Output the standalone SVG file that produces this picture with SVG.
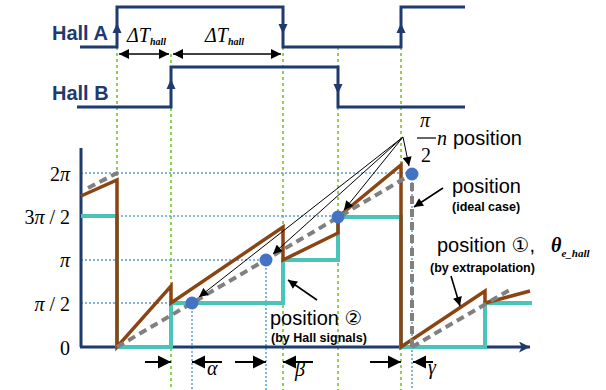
<svg xmlns="http://www.w3.org/2000/svg" width="606" height="390" viewBox="0 0 606 390">
<defs>
<style>
.hall{fill:none;stroke:#1F3A6E;stroke-width:3}
.hlab{font-family:"Liberation Sans",Arial,sans-serif;font-weight:bold;font-size:20px;fill:#1F3A6E}
.green{stroke:#92D050;stroke-width:2;stroke-dasharray:3,3;fill:none}
.bdot{stroke:#5B9BD5;stroke-width:1.5;stroke-dasharray:2,2;fill:none}
.teal{fill:none;stroke:#4BC4B8;stroke-width:4}
.brown{fill:none;stroke:#8B4513;stroke-width:3.5;stroke-linejoin:miter}
.gray{fill:none;stroke:#808080;stroke-width:4;stroke-dasharray:8,5}
.ser{font-family:"Liberation Serif","Times New Roman",serif;font-size:20px;fill:#000}
.it{font-style:italic}
.san{font-family:"Liberation Sans",Arial,"DejaVu Sans",sans-serif;font-size:20px;fill:#000}
.small{font-family:"Liberation Sans",Arial,sans-serif;font-weight:bold;font-size:12.5px;fill:#000}
.thin{stroke:#000;stroke-width:1;fill:none}
.arr{stroke:#000;stroke-width:1.6;fill:none}
.arrb{stroke:#000;stroke-width:2;fill:none}
.dot{fill:#4472C4}
</style>
<marker id="hb" viewBox="0 0 10 10" refX="10" refY="5" markerUnits="userSpaceOnUse" markerWidth="11" markerHeight="10" orient="auto-start-reverse"><path d="M0,0 L10,5 L0,10 z" fill="#000"/></marker>
<marker id="sm" viewBox="0 0 10 10" refX="10" refY="5" markerUnits="userSpaceOnUse" markerWidth="10" markerHeight="9" orient="auto"><path d="M0,0 L10,5 L0,10 z" fill="#000"/></marker>
<marker id="big" viewBox="0 0 10 10" refX="10" refY="5" markerUnits="userSpaceOnUse" markerWidth="13" markerHeight="14" orient="auto"><path d="M0,0 L10,5 L0,10 z" fill="#000"/></marker>
<marker id="ax" viewBox="0 0 10 10" refX="10" refY="5" markerUnits="userSpaceOnUse" markerWidth="13" markerHeight="11" orient="auto"><path d="M0,0 L10,5 L0,10 L2.5,5 z" fill="#1F3A6E"/></marker>
</defs>

<g id="grid">
<path class="green" d="M117,47 V347 M171,54 V390 M283,47 V390 M338,47 V390 M401,47 V390"/>
<path class="bdot" d="M81,173 H406 M81,216 H338 M81,260 H266 M81,303 H192 M192,303 V390 M266,260 V390 M412,174 V390"/>
</g>

<g id="hallA">
<path class="hall" d="M80,47 H117 V7 H283 V47 H401 V7 H465"/>
<path d="M117,23 L112.5,33 L121.5,33 z M283,34 L278.5,24 L287.5,24 z M401,23 L396.5,33 L405.5,33 z" fill="#1F3A6E"/>
<text class="hlab" x="52" y="40">Hall A</text>
</g>
<g id="hallB">
<path class="hall" d="M77,107 H171 V67 H338 V107 H465"/>
<path d="M171,79 L166.5,89 L175.5,89 z M338,94 L333.5,84 L342.5,84 z" fill="#1F3A6E"/>
<text class="hlab" x="52" y="100">Hall B</text>
</g>

<g id="dT">
<line class="arr" x1="119" y1="54" x2="169" y2="54" marker-start="url(#hb)" marker-end="url(#hb)"/>
<line class="arr" x1="173" y1="54" x2="281" y2="54" marker-start="url(#hb)" marker-end="url(#hb)"/>
<text class="ser it" x="127" y="42" font-size="18">ΔT<tspan font-size="10" font-weight="bold" dy="3">hall</tspan></text>
<text class="ser it" x="205" y="42" font-size="18">ΔT<tspan font-size="10" font-weight="bold" dy="3">hall</tspan></text>
</g>

<g id="axes">
<line x1="81" y1="148" x2="81" y2="347" stroke="#1F3A6E" stroke-width="3"/>
<line x1="80" y1="347" x2="530" y2="347" stroke="#1F3A6E" stroke-width="3" marker-end="url(#ax)"/>
<text class="ser" x="70" y="181" text-anchor="end" font-size="21">2<tspan class="it">π</tspan></text>
<text class="ser" x="70" y="224" text-anchor="end" font-size="21">3<tspan class="it">π</tspan> / 2</text>
<text class="ser it" x="70" y="267" text-anchor="end" font-size="21">π</text>
<text class="ser" x="70" y="311" text-anchor="end" font-size="21"><tspan class="it">π</tspan> / 2</text>
<text class="ser" x="70" y="355" text-anchor="end" font-size="21">0</text>
</g>

<g id="curves">
<path class="teal" d="M81,216 H117 V347 H171 V303 H283 V260 H338 V217 H401 V347 H485 V303 H532"/>
<path class="brown" d="M81,196 L117,180 V347 L171,286 V303 L283,227 V260 L338,233 V217 L401,165 V347 L485,291 V303 L530,291"/>
<path class="gray" d="M88,188 L119,172 M117,347 L412,174 V347 M412,347 L513,288"/>
<circle class="dot" cx="192" cy="303" r="6.5"/>
<circle class="dot" cx="266" cy="260" r="6.5"/>
<circle class="dot" cx="338" cy="217" r="6.5"/>
<circle class="dot" cx="412" cy="174" r="6.5"/>
</g>

<g id="connectors">
<line class="thin" x1="403" y1="137" x2="199" y2="297" marker-end="url(#sm)"/>
<line class="thin" x1="403" y1="137" x2="273" y2="254" marker-end="url(#sm)"/>
<line class="thin" x1="403" y1="137" x2="344" y2="210" marker-end="url(#sm)"/>
<line class="thin" x1="403" y1="137" x2="409" y2="166" marker-end="url(#sm)"/>
<line class="arr" x1="443" y1="188" x2="414" y2="207" marker-end="url(#sm)"/>
<line class="arr" x1="451" y1="276" x2="460" y2="306" marker-end="url(#sm)"/>
<line class="arr" x1="317" y1="300" x2="288" y2="280" marker-end="url(#sm)"/>
<line class="arrb" x1="145" y1="362" x2="171" y2="362" marker-end="url(#big)"/>
<line class="arrb" x1="222" y1="362" x2="192" y2="362" marker-end="url(#big)"/>
<line class="arrb" x1="235" y1="362" x2="266" y2="362" marker-end="url(#big)"/>
<line class="arrb" x1="313" y1="362" x2="283" y2="362" marker-end="url(#big)"/>
<line class="arrb" x1="370" y1="362" x2="401" y2="362" marker-end="url(#big)"/>
<line class="arrb" x1="433" y1="362" x2="413" y2="362" marker-end="url(#big)"/>
</g>

<g id="labels">
<text class="ser it" x="420" y="127" font-size="22">π</text>
<line x1="417" y1="138" x2="436" y2="138" stroke="#000" stroke-width="1.2"/>
<text class="ser" x="421" y="162" font-size="22">2</text>
<text class="ser it" x="437" y="145" font-size="22">n</text>
<text class="san" x="453" y="145">position</text>
<text class="san" x="452" y="193">position</text>
<text class="small" x="452" y="211">(ideal case)</text>
<text class="san" x="437" y="252">position ①,</text>
<text class="ser it" x="551" y="252" font-weight="bold">θ<tspan font-size="11" dy="5">e_hall</tspan></text>
<text class="small" x="430" y="272">(by extrapolation)</text>
<text class="san" x="270" y="325">position ②</text>
<text class="small" x="271" y="342">(by Hall signals)</text>
<text class="ser it" x="207" y="375">α</text>
<text class="ser it" x="295" y="376">β</text>
<text class="ser it" x="428" y="374">γ</text>
</g>
</svg>
